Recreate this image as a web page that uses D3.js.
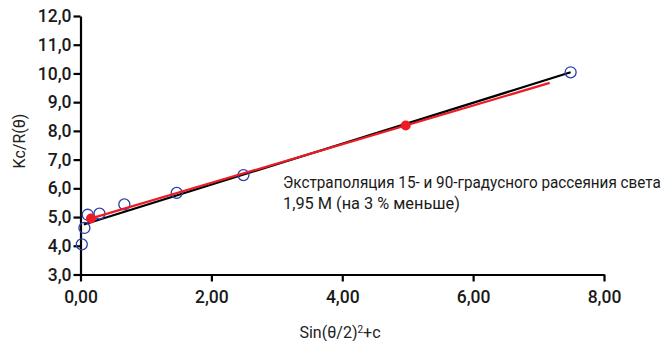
<!DOCTYPE html>
<html>
<head>
<meta charset="utf-8">
<script src="https://cdn.jsdelivr.net/npm/d3@7"></script>
<style>
  html, body { margin: 0; padding: 0; background: #fff; }
  svg { display: block; font-family: Roboto, "Liberation Sans", sans-serif; }
</style>
</head>
<body>
<svg id="chart" width="670" height="341"></svg>
<script>
// Measured scattering points: x = sin²(θ/2) + c, y = Kc/R(θ)
const measuredX = [0.02, 0.06, 0.11, 0.29, 0.67, 1.47, 2.49, 7.49];
const measuredY = [4.05, 4.62, 5.08, 5.12, 5.44, 5.84, 6.46, 10.04];

// 15° and 90° points used for the two-angle extrapolation
const extrapX = [0.16, 4.97];
const extrapY = [4.95, 8.19];

// Fitted line through all measured points (start, end)
const fitX = [0.05, 7.49];
const fitY = [4.74, 10.04];

// Extrapolation line through the 15° and 90° points (start, end)
const extLineX = [0.10, 7.17];
const extLineY = [4.91, 9.67];

const xTicks = [0, 2, 4, 6, 8];
const yTicks = [3, 4, 5, 6, 7, 8, 9, 10, 11, 12];

const annotationLines = [
  "Экстраполяция 15- и 90-градусного рассеяния света",
  "1,95 M (на 3 % меньше)"
];
const annotationWidths = [378, 177];

const svg = d3.select("#chart");
const x = d3.scaleLinear().domain([0, 8]).range([80.5, 604]);
const y = d3.scaleLinear().domain([3, 12]).range([274.5, 16]);

const fmtX = v => d3.format(".2f")(v).replace(".", ",");
const fmtY = v => d3.format(".1f")(v).replace(".", ",");

// Axes
const xAxis = svg.append("g")
  .attr("transform", `translate(0,${y(3)})`)
  .call(d3.axisBottom(x).tickValues(xTicks).tickFormat(fmtX).tickSize(7).tickSizeOuter(0).tickPadding(9));
const yAxis = svg.append("g")
  .attr("transform", `translate(${x(0)},0)`)
  .call(d3.axisLeft(y).tickValues(yTicks).tickFormat(fmtY).tickSize(7).tickSizeOuter(0).tickPadding(2));

[xAxis, yAxis].forEach(g => {
  g.select(".domain").attr("stroke", "#000").attr("stroke-width", 2.2);
  g.selectAll(".tick line").attr("stroke", "#000").attr("stroke-width", 2.2);
  g.selectAll(".tick text")
    .attr("fill", "#1a1a1a")
    .style("font-family", "Roboto, sans-serif")
    .style("font-weight", 500)
    .style("font-size", "17.5px");
});

// Axis titles
svg.append("text")
  .attr("x", 340).attr("y", 338)
  .attr("text-anchor", "middle")
  .style("font-size", "16px").attr("fill", "#222")
  .html("Sin(θ/2)<tspan baseline-shift='super' font-size='10px'>2</tspan>+c");

svg.append("text")
  .attr("transform", "translate(25,141) rotate(-90)")
  .attr("text-anchor", "middle")
  .style("font-size", "16px").attr("fill", "#222")
  .text("Kc/R(θ)");

// Fitted line (black)
const line = d3.line().x(d => x(d[0])).y(d => y(d[1]));
svg.append("path")
  .datum(d3.zip(fitX, fitY))
  .attr("d", line)
  .attr("fill", "none").attr("stroke", "#000").attr("stroke-width", 2.2);

// Measured points (open blue circles)
svg.append("g").selectAll("circle")
  .data(d3.zip(measuredX, measuredY))
  .join("circle")
  .attr("cx", d => x(d[0])).attr("cy", d => y(d[1]))
  .attr("r", 5.5)
  .attr("fill", "none").attr("stroke", "#2b3ea8").attr("stroke-width", 1.3);

// Extrapolation line (red)
svg.append("path")
  .datum(d3.zip(extLineX, extLineY))
  .attr("d", line)
  .attr("fill", "none").attr("stroke", "#ec1c24").attr("stroke-width", 2.2);

// 15° / 90° points (filled red)
svg.append("g").selectAll("circle")
  .data(d3.zip(extrapX, extrapY))
  .join("circle")
  .attr("cx", d => x(d[0])).attr("cy", d => y(d[1]))
  .attr("r", 5)
  .attr("fill", "#ec1c24");

// Annotation, horizontally condensed to fit right of the lines
svg.append("g").selectAll("text")
  .data(annotationLines)
  .join("text")
  .style("font-size", "17px").attr("fill", "#1a1a1a")
  .text(d => d)
  .attr("transform", function (d, i) {
    const sx = annotationWidths[i] / this.getComputedTextLength();
    return `translate(283,${188 + i * 21}) scale(${sx},1)`;
  });
</script>
</body>
</html>
